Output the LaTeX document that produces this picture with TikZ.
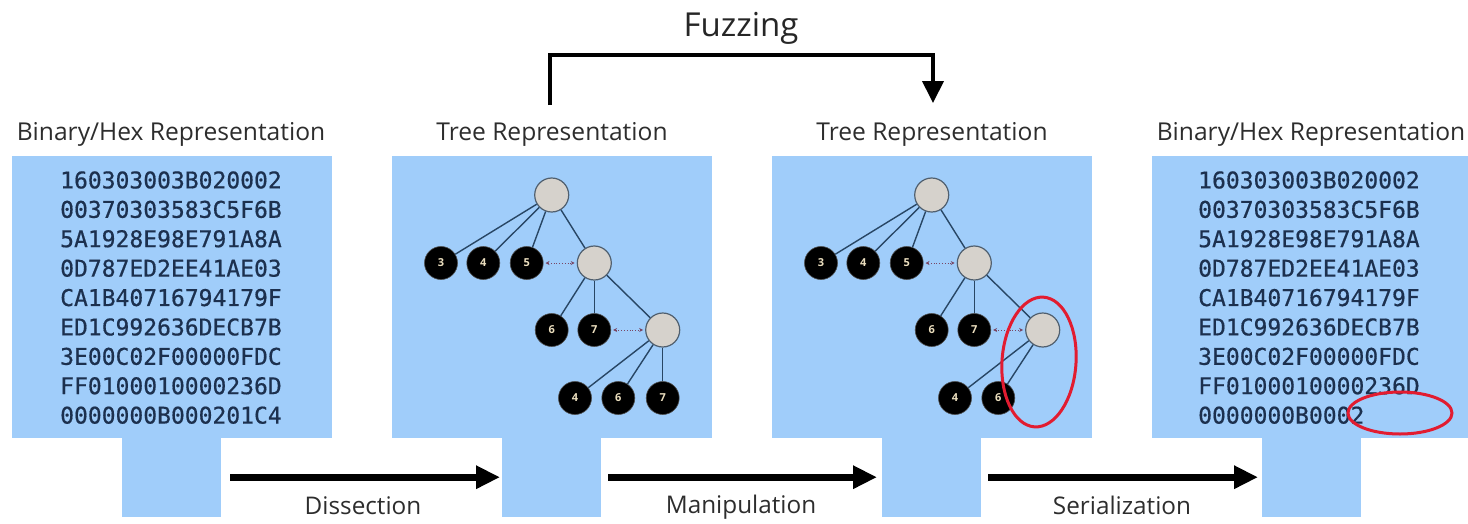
\documentclass[tikz,border=0pt]{standalone}
\usepackage{fontspec}
\setmainfont{Open Sans}
\newfontfamily\hexfont[FakeBold=0.6]{DejaVu Sans Mono}
\usetikzlibrary{arrows.meta}
\definecolor{panelblue}{RGB}{160,205,250}
\definecolor{hexcol}{RGB}{28,48,78}
\definecolor{titlecol}{RGB}{45,45,45}
\definecolor{edgecol}{RGB}{40,70,100}
\definecolor{graynode}{RGB}{214,210,204}
\definecolor{grayborder}{RGB}{80,95,110}
\definecolor{linkcol}{RGB}{120,70,100}
\definecolor{markred}{RGB}{226,28,48}
\definecolor{digitcol}{RGB}{235,222,190}
\tikzset{
  panel/.style={fill=panelblue, draw=none},
  titletext/.style={font=\fontsize{24.6}{28}\selectfont, text=titlecol, anchor=base, inner sep=0pt},
  hextext/.style={font=\hexfont\fontsize{23}{28}\selectfont, text=hexcol, anchor=west, inner sep=0pt},
  leaf/.style={circle, fill=black, draw=black!70, line width=0.6pt, minimum size=33pt, inner sep=0pt,
    font=\fontsize{11}{13}\selectfont\bfseries, text=digitcol},
  inner/.style={circle, fill=graynode, draw=grayborder, line width=1.2pt, minimum size=34pt, inner sep=0pt},
  tedge/.style={draw=edgecol, line width=1.4pt},
  link/.style={draw=linkcol, line width=0.8pt, dotted, {Stealth[length=4pt,width=4pt]}-{Stealth[length=4pt,width=4pt]}, shorten <=2pt, shorten >=2pt},
  bigarrow/.style={line width=7pt, -{Triangle[length=24pt,width=22pt]}},
  fuzzline/.style={line width=4pt, -{Triangle[length=22pt,width=21pt]}},
  steplabel/.style={font=\fontsize{24.3}{28}\selectfont, text=titlecol, anchor=base, inner sep=0pt},
  redmark/.style={draw=markred, line width=3pt},
}
\begin{document}
\begin{tikzpicture}[x=1pt,y=-1pt]
\useasboundingbox (0,0) rectangle (1468,523);
% panels
\foreach \L [count=\i] in {12,392,772,1152} {
  \fill[panel] (\L,156) rectangle (\L+320,438);
  \node[panel, minimum width=99pt, minimum height=80pt, inner sep=0pt, anchor=north west] (s\i) at (\L+110,437) {};
}
% titles
\node[titletext] (t1) at (171,140) {Binary/Hex Representation};
\node[titletext] (t2) at (552,140) {Tree Representation};
\node[titletext] (t3) at (932,140) {Tree Representation};
\node[titletext] (t4) at (1311,140) {Binary/Hex Representation};
% hex blocks
\foreach \t [count=\i] in {160303003B020002,00370303583C5F6B,5A1928E98E791A8A,0D787ED2EE41AE03,CA1B40716794179F,ED1C992636DECB7B,3E00C02F00000FDC,FF0100010000236D,0000000B000201C4}
  \node[hextext] (ha\i) at (60,{180+29.4*(\i-1)}) {\t};
\foreach \t [count=\i] in {160303003B020002,00370303583C5F6B,5A1928E98E791A8A,0D787ED2EE41AE03,CA1B40716794179F,ED1C992636DECB7B,3E00C02F00000FDC,FF0100010000236D,0000000B0002}
  \node[hextext] (hb\i) at (1198,{180+29.4*(\i-1)}) {\t};
% tree in panel 2
\begin{scope}[shift={(392,0)}]
  \node[inner] (ar) at (159.7,195) {};
  \node[leaf] (a3) at (49,263) {3};
  \node[leaf] (a4) at (91.3,263) {4};
  \node[leaf] (a5) at (134.7,263) {5};
  \node[inner] (ag2) at (202.3,263) {};
  \node[leaf] (a6) at (159.7,330) {6};
  \node[leaf] (a7) at (202.3,330) {7};
  \node[inner] (ag3) at (270.7,330) {};
  \node[leaf] (ab4) at (183,398) {4};
  \node[leaf] (ab6) at (226.3,398) {6};
  \node[leaf] (ab7) at (270.7,398) {7};
\end{scope}
\foreach \c in {a3,a4,a5,ag2} \draw[tedge] (ar) -- (\c);
\foreach \c in {a6,a7,ag3} \draw[tedge] (ag2) -- (\c);
\foreach \c in {ab4,ab6,ab7} \draw[tedge] (ag3) -- (\c);
\draw[link] (a5) -- (ag2);
\draw[link] (a7) -- (ag3);
% tree in panel 3
\begin{scope}[shift={(772,0)}]
  \node[inner] (br) at (159.7,195) {};
  \node[leaf] (b3) at (49,263) {3};
  \node[leaf] (b4) at (91.3,263) {4};
  \node[leaf] (b5) at (134.7,263) {5};
  \node[inner] (bg2) at (202.3,263) {};
  \node[leaf] (b6) at (159.7,330) {6};
  \node[leaf] (b7) at (202.3,330) {7};
  \node[inner] (bg3) at (270.7,330) {};
  \node[leaf] (bb4) at (183,398) {4};
  \node[leaf] (bb6) at (226.3,398) {6};
\end{scope}
\foreach \c in {b3,b4,b5,bg2} \draw[tedge] (br) -- (\c);
\foreach \c in {b6,b7,bg3} \draw[tedge] (bg2) -- (\c);
\foreach \c in {bb4,bb6} \draw[tedge] (bg3) -- (\c);
\draw[link] (b5) -- (bg2);
\draw[link] (b7) -- (bg3);
% red marks
\draw[redmark, rotate around={-4:(1039,362)}] (1039,362) ellipse [x radius=37, y radius=65];
\draw[redmark] (1400,413) ellipse [x radius=52, y radius=21];
% step arrows
\draw[bigarrow, shorten <=9pt, shorten >=2pt] (s1.east) -- (s2.west);
\draw[bigarrow, shorten <=7pt, shorten >=5pt] (s2.east) -- (s3.west);
\draw[bigarrow, shorten <=7pt, shorten >=4pt] (s3.east) -- (s4.west);
\node[steplabel] (l1) at (363,514) {Dissection};
\node[steplabel] (l2) at (741,513) {Manipulation};
\node[steplabel] (l3) at (1122,514) {Serialization};
% fuzzing
\node[font=\fontsize{33}{38}\selectfont, text=black!85, anchor=base, inner sep=0pt] (fz) at (741,36) {Fuzzing};
\coordinate (fa) at (550,105);
\coordinate (fb) at (933,103);
\draw[fuzzline] (fa) -- (550,55) -| (fb);
\end{tikzpicture}
\end{document}
